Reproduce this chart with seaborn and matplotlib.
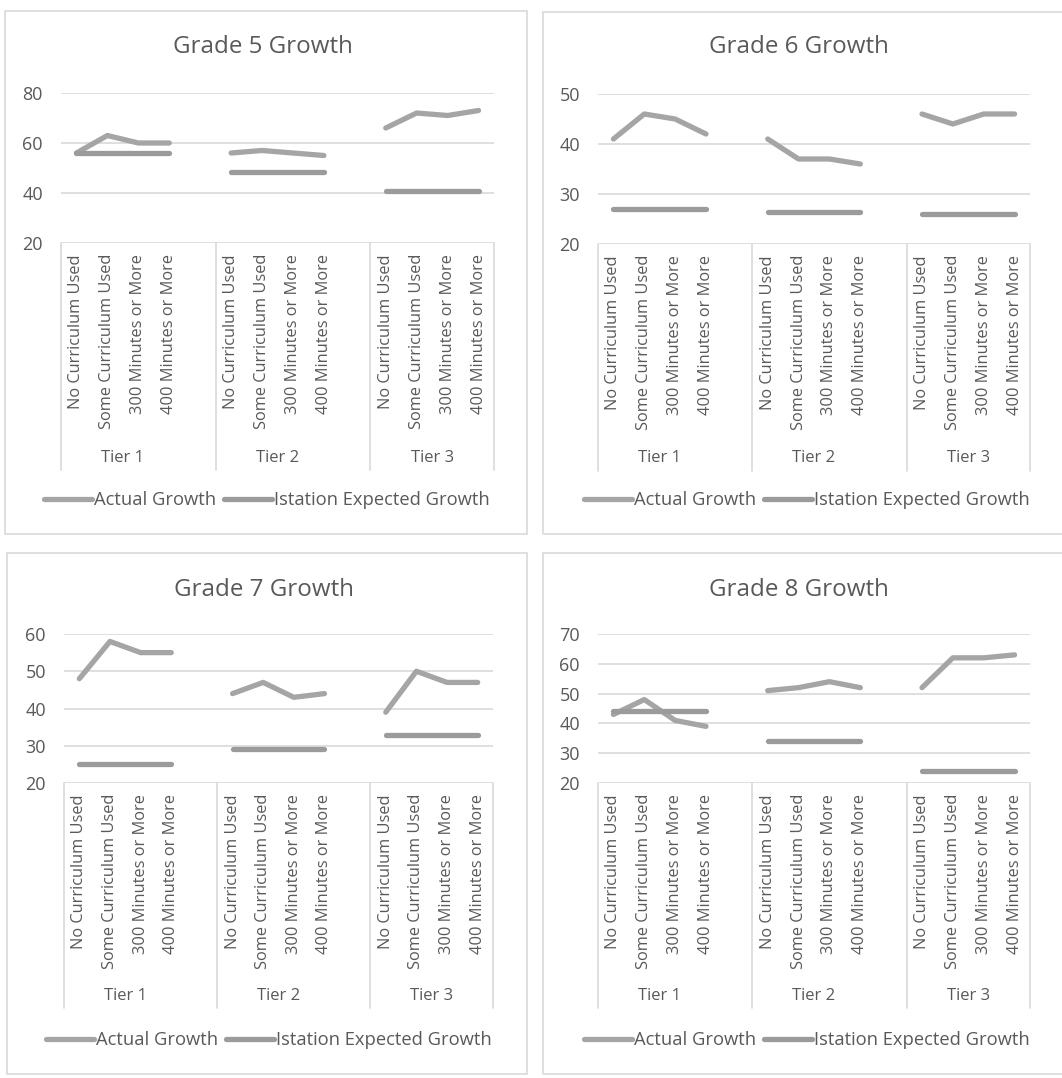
import numpy as np
import pandas as pd
import matplotlib
matplotlib.use("Agg")
import matplotlib.pyplot as plt
import seaborn as sns
from matplotlib.lines import Line2D
from matplotlib.patches import Rectangle
from matplotlib.transforms import blended_transform_factory

# --------------------------------------------
# Data
# --------------------------------------------
categories = ["No Curriculum Used", "Some Curriculum Used",
              "300 Minutes or More", "400 Minutes or More"]
tiers = ["Tier 1", "Tier 2", "Tier 3"]
series_names = ["Actual Growth", "Istation Expected Growth"]

titles = ["Grade 5 Growth", "Grade 6 Growth", "Grade 7 Growth", "Grade 8 Growth"]

# values listed tier by tier, 4 categories per tier
g5_actual = [56, 63, 60, 60, 56, 57, 56, 55, 66, 72, 71, 73]
g5_expected = [56, 56, 56, 56, 48.5, 48.5, 48.5, 48.5, 41, 41, 41, 41]
g6_actual = [41, 46, 45, 42, 41, 37, 37, 36, 46, 44, 46, 46]
g6_expected = [27, 27, 27, 27, 26.5, 26.5, 26.5, 26.5, 26, 26, 26, 26]
g7_actual = [48, 58, 55, 55, 44, 47, 43, 44, 39, 50, 47, 47]
g7_expected = [25, 25, 25, 25, 29, 29, 29, 29, 33, 33, 33, 33]
g8_actual = [43, 48, 41, 39, 51, 52, 54, 52, 52, 62, 62, 63]
g8_expected = [44, 44, 44, 44, 34, 34, 34, 34, 24, 24, 24, 24]

y_ticks = [
    [20, 40, 60, 80],
    [20, 30, 40, 50],
    [20, 30, 40, 50, 60],
    [20, 30, 40, 50, 60, 70],
]

# --------------------------------------------
# Styling / layout
# --------------------------------------------
W, H = 1062, 1078
TEXT = "#595959"
GRID = "#D9D9D9"
palette = {"Actual Growth": "#A5A5A5", "Istation Expected Growth": "#9B9B9B"}

sns.set_style("white")
plt.rcParams["font.family"] = ["Open Sans", "DejaVu Sans"]

# plot areas in pixels: left, top, right, bottom
plot_boxes = [(61, 93, 494, 243), (598, 94, 1030, 244),
              (64, 634, 493, 783), (598, 634, 1030, 783)]
panel_boxes = [(5, 11, 527, 534), (543, 12, 1075, 534),
               (7, 553, 527, 1074), (543, 553, 1075, 1074)]
title_pos = [(263, 47), (799, 47), (264, 590), (799, 590)]
legend_pos = [(267, 500), (807, 500), (269, 1040), (807, 1040)]


def px_rect(l, t, r, b):
    return [l / W, 1 - b / H, (r - l) / W, (b - t) / H]


def make_frame(actual, expected):
    rows = []
    for s_name, vals in zip(series_names, [actual, expected]):
        for i, v in enumerate(vals):
            t, c = divmod(i, len(categories))
            rows.append({"series": s_name, "tier": tiers[t],
                         "category": categories[c],
                         "pos": t * (len(categories) + 1) + c, "value": v})
    return pd.DataFrame(rows)


fig = plt.figure(figsize=(W / 100, H / 100), dpi=100)

all_data = [(g5_actual, g5_expected), (g6_actual, g6_expected),
            (g7_actual, g7_expected), (g8_actual, g8_expected)]

for k, (actual, expected) in enumerate(all_data):
    # panel border
    l, t, r, b = panel_boxes[k]
    fig.add_artist(Rectangle((l / W, 1 - b / H), (r - l) / W, (b - t) / H,
                             transform=fig.transFigure, fill=False,
                             ec=GRID, lw=1.2))

    ax = fig.add_axes(px_rect(*plot_boxes[k]))
    df = make_frame(actual, expected)

    sns.lineplot(data=df, x="pos", y="value", hue="series", units="tier",
                 estimator=None, sort=False, palette=palette,
                 hue_order=series_names, linewidth=3.8, legend=False, ax=ax,
                 solid_capstyle="round", solid_joinstyle="round", zorder=3)

    yt = y_ticks[k]
    ax.set_ylim(yt[0], yt[-1])
    ax.set_yticks(yt)
    n_pos = len(tiers) * (len(categories) + 1) - 1
    ax.set_xlim(-0.5, n_pos - 0.5)
    pos = sorted(df["pos"].unique())
    ax.set_xticks(pos)
    ax.set_xticklabels(categories * len(tiers), rotation=90)
    ax.set_xlabel("")
    ax.set_ylabel("")

    for y in yt:
        ax.axhline(y, color=GRID, lw=1.2, zorder=1)
    for s in ax.spines.values():
        s.set_visible(False)
    ax.tick_params(axis="y", length=0, pad=13, labelsize=13, labelcolor=TEXT)
    ax.tick_params(axis="x", length=0, pad=8, labelsize=11.8, labelcolor=TEXT)

    # multi-level category axis: dividers and tier labels
    trans = blended_transform_factory(ax.transData, ax.transAxes)
    for xd in [-0.5, 4.5, 9.5, n_pos - 0.5]:
        ax.add_line(Line2D([xd, xd], [0, -1.51], transform=trans,
                           color=GRID, lw=1.2, clip_on=False))
    for ti, tier in enumerate(tiers):
        xc = ti * (len(categories) + 1) + (len(categories) - 1) / 2
        ax.text(xc, -1.43, tier, transform=trans, ha="center", va="center",
                fontsize=12, color=TEXT)

    # title
    tx, ty = title_pos[k]
    fig.text(tx / W, 1 - ty / H, titles[k], ha="center", va="center",
             fontsize=17.4, color=TEXT)

    # legend
    handles = [Line2D([0], [0], color=palette[s], lw=3.8) for s in series_names]
    lx, ly = legend_pos[k]
    leg = ax.legend(handles, series_names, loc="center",
                    bbox_to_anchor=(lx / W, 1 - ly / H),
                    bbox_transform=fig.transFigure, ncol=2, frameon=False,
                    fontsize=13.2, handlelength=2.6, handletextpad=0.1,
                    columnspacing=0.45)
    for txt in leg.get_texts():
        txt.set_color(TEXT)

fig.savefig("out.png", dpi=100)
